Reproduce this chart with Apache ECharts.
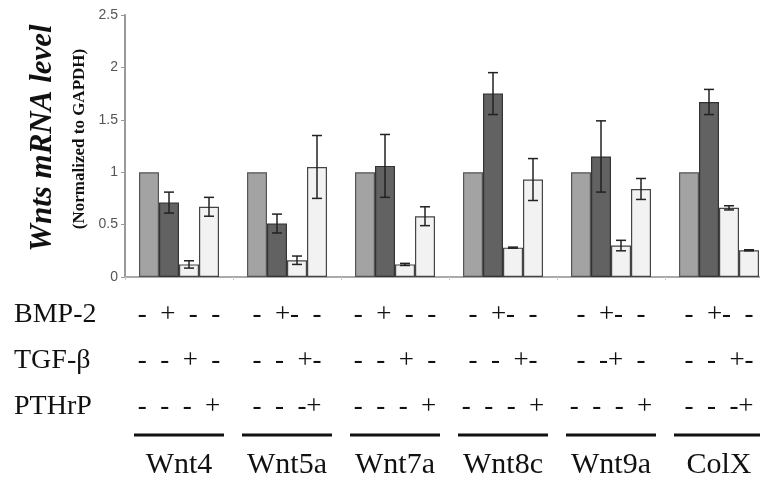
<!DOCTYPE html>
<html>
<head>
<meta charset="utf-8">
<script src="https://cdn.jsdelivr.net/npm/echarts@6/dist/echarts.min.js"></script>
<style>html,body{margin:0;padding:0;background:#fff;overflow:hidden;width:760px;height:481px}#c{width:773px;height:481px}</style>
</head>
<body>
<div id="c"></div>
<script>
// ---- data ----
var categories = ['Wnt4', 'Wnt5a', 'Wnt7a', 'Wnt8c', 'Wnt9a', 'ColX'];
var control = [1, 1, 1, 1, 1, 1];
var bmp2 = [0.71, 0.51, 1.06, 1.75, 1.15, 1.67];
var tgfb = [0.12, 0.16, 0.12, 0.28, 0.30, 0.66];
var pthrp = [0.67, 1.05, 0.58, 0.93, 0.84, 0.255];
var bmp2Err = [0.10, 0.09, 0.30, 0.20, 0.34, 0.12];
var tgfbErr = [0.035, 0.04, 0.01, 0.005, 0.05, 0.02];
var pthrpErr = [0.09, 0.30, 0.09, 0.20, 0.10, 0.005];
var rowNames = ['BMP-2', 'TGF-\u03b2', 'PTHrP'];
var bmpSigns = ['-  +  -  -', '-  +-  -', '-  +  -  -', '-  +-  -', '-  +-  -', '-  +-  -'];
var tgfSigns = ['-  -  +  -', '-  -  +-', '-  -  +  -', '-  -  +-', '-  -+  -', '-  -  +-'];
var pthSigns = ['-  -  -  +', '-  -  -+', '-  -  -  +', '-  -  -  +', '-  -  -  +', '-  -  -+'];
var yTicks = [0, 0.5, 1, 1.5, 2, 2.5];

// ---- styles ----
var BAR_W = 20;
var serif = '"Liberation Serif", "DejaVu Serif", serif';

function errSeries(vals, errs, offsetIdx) {
  return {
    type: 'custom',
    z: 10,
    data: vals.map(function (v, i) { return [i, v, errs[i]]; }),
    encode: { x: 0, y: 1 },
    renderItem: function (params, api) {
      var c = api.value(0), v = api.value(1), e = api.value(2);
      var p = api.coord([c, v]);
      var x = p[0] + (offsetIdx - 1.5) * BAR_W;
      var yt = api.coord([c, v + e])[1];
      var yb = api.coord([c, v - e])[1];
      var st = { stroke: '#222', lineWidth: 1.5 };
      return {
        type: 'group',
        children: [
          { type: 'line', shape: { x1: x, y1: yt, x2: x, y2: yb }, style: st },
          { type: 'line', shape: { x1: x - 5, y1: yt, x2: x + 5, y2: yt }, style: st },
          { type: 'line', shape: { x1: x - 5, y1: yb, x2: x + 5, y2: yb }, style: st }
        ]
      };
    }
  };
}

function barSeries(vals, fill, border) {
  return {
    type: 'bar',
    data: vals,
    barWidth: BAR_W,
    barGap: '0%',
    itemStyle: { color: fill, borderColor: border, borderWidth: 1.2 }
  };
}

var chart = echarts.init(document.getElementById('c'), null, { renderer: 'canvas' });
chart.setOption({
  animation: false,
  grid: { left: 125, right: 0, top: 15, bottom: 204, containLabel: false },
  xAxis: {
    type: 'category',
    data: categories,
    axisLine: { lineStyle: { color: '#aaa', width: 2 } },
    axisTick: { show: true, length: 3, lineStyle: { color: '#ccc' } },
    axisLabel: {
      interval: 0,
      margin: 15,
      formatter: function (val, idx) {
        return '{s|' + bmpSigns[idx] + '}\n{s|' + tgfSigns[idx] + '}\n{s|' + pthSigns[idx] +
          '}\n{ul|\u00a0}\n{c|' + val + '}';
      },
      rich: {
        s: { fontFamily: serif, fontSize: 27, lineHeight: 46, color: '#111', align: 'center' },
        ul: { width: 90, height: 3, lineHeight: 10, fontSize: 2, backgroundColor: '#111', align: 'center' },
        c: { fontFamily: serif, fontSize: 30, lineHeight: 50, color: '#111', align: 'center' }
      }
    }
  },
  yAxis: {
    type: 'value',
    min: 0,
    max: 2.5,
    interval: 0.5,
    splitLine: { show: false },
    axisLine: { show: true, lineStyle: { color: '#999', width: 2 } },
    axisTick: { show: true, length: 4, lineStyle: { color: '#999' } },
    axisLabel: {
      margin: 7,
      fontFamily: '"Liberation Sans", Arial, sans-serif',
      fontSize: 14,
      color: '#555',
      formatter: function (v) { return yTicks.indexOf(v) >= 0 ? String(v) : ''; }
    }
  },
  graphic: [
    { type: 'text', x: 43, y: 138, rotation: Math.PI / 2,
      style: { text: 'Wnts mRNA level', font: 'italic bold 31px ' + serif, fill: '#111', textAlign: 'center', textVerticalAlign: 'middle' } },
    { type: 'text', x: 80, y: 139, rotation: Math.PI / 2,
      style: { text: '(Normalized to GAPDH)', font: 'bold 17px ' + serif, fill: '#111', textAlign: 'center', textVerticalAlign: 'middle' } },
    { type: 'text', x: 14, y: 315, style: { text: rowNames[0], font: '28px ' + serif, fill: '#111', textVerticalAlign: 'middle' } },
    { type: 'text', x: 14, y: 361, style: { text: rowNames[1], font: '28px ' + serif, fill: '#111', textVerticalAlign: 'middle' } },
    { type: 'text', x: 14, y: 407, style: { text: rowNames[2], font: '28px ' + serif, fill: '#111', textVerticalAlign: 'middle' } }
  ],
  series: [
    barSeries(control, '#a3a3a3', '#555'),
    barSeries(bmp2, '#626262', '#333'),
    barSeries(tgfb, '#f2f2f2', '#444'),
    barSeries(pthrp, '#f2f2f2', '#444'),
    errSeries(bmp2, bmp2Err, 1),
    errSeries(tgfb, tgfbErr, 2),
    errSeries(pthrp, pthrpErr, 3)
  ]
});
</script>
</body>
</html>
